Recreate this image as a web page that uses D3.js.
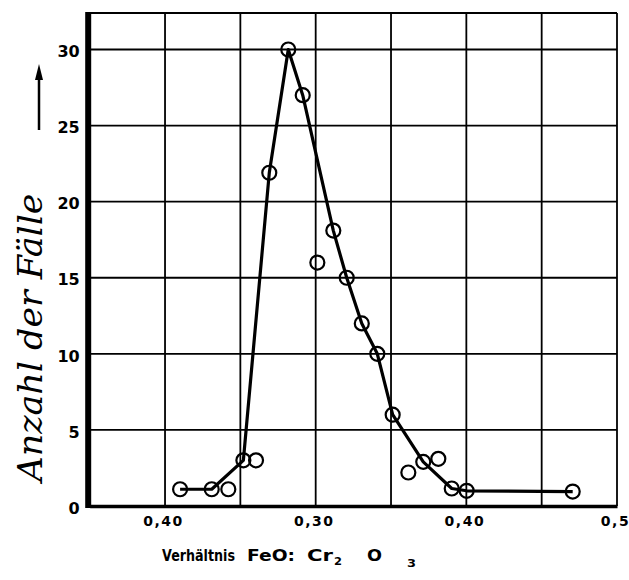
<!DOCTYPE html>
<html>
<head>
<meta charset="utf-8">
<script src="https://cdn.jsdelivr.net/npm/d3@7"></script>
<style>
  html, body { margin: 0; padding: 0; background: #fff; }
  svg { display: block; }
</style>
</head>
<body>
<svg id="chart" width="629" height="580"></svg>
<script>
// ---- data ----
const ratio = [0.210, 0.231, 0.242, 0.252, 0.2604, 0.2692, 0.2818, 0.2914, 0.3011, 0.3117,
               0.3206, 0.3306, 0.3409, 0.3511, 0.3615, 0.3714, 0.3814, 0.3903, 0.4002, 0.4706];
const cases = [1.1, 1.1, 1.1, 3.0, 3.0, 21.9, 30, 27.0, 16.0, 18.1,
               15.0, 12.0, 10.0, 6.0, 2.2, 2.9, 3.1, 1.15, 1.0, 0.95];
// vertices of the hand-drawn curve
const lineRatio = [0.210, 0.231, 0.252, 0.2692, 0.2818, 0.2914, 0.3117, 0.3206, 0.3306, 0.3409, 0.3511, 0.3714, 0.3903, 0.4002, 0.4706];
const lineCases = [1.1, 1.1, 3.0, 21.9, 30, 27.0, 18.1, 15.0, 12.0, 10.0, 6.0, 2.9, 1.15, 1.0, 0.95];
const xTicks = [0.20, 0.30, 0.40, 0.50];
const xTickLabels = ["0,40", "0,30", "0,40", "0,5"];
const xGrid = [0.20, 0.25, 0.30, 0.35, 0.40, 0.45, 0.50];
const yTicks = [0, 5, 10, 15, 20, 25, 30];
const yTitle = "Anzahl der Fälle";
// x title pieces: [text, x, width, font size, baseline]
const xTitleParts = [
  ["Verhältnis", 162, 73, 15, 561],
  ["FeO:", 247, 48, 15, 561],
  ["Cr", 307, 26, 15, 561],
  ["2", 334, 8, 11, 565],
  ["O", 367, 15, 15, 561],
  ["3", 407, 9, 10, 567]
];

// ---- layout ----
const svg = d3.select("#chart");
const x = d3.scaleLinear().domain([0.15, 0.50]).range([89.7, 617]);
const y = d3.scaleLinear().domain([0, 32.4]).range([506, 13]);

// gridlines
const grid = svg.append("g").attr("stroke", "#000").attr("stroke-width", 1.8);
grid.selectAll("line.v").data(xGrid).join("line")
  .attr("x1", d => x(d)).attr("x2", d => x(d))
  .attr("y1", y(32.4)).attr("y2", y(0));
grid.selectAll("line.h").data(yTicks.slice(1).concat([32.4])).join("line")
  .attr("x1", x(0.15)).attr("x2", x(0.50))
  .attr("y1", d => y(d)).attr("y2", d => y(d));

// axes
const xAxis = d3.axisBottom(x).tickValues(xTicks)
  .tickFormat((d, i) => xTickLabels[i]).tickSize(0).tickPadding(10);
const gx = svg.append("g").attr("transform", `translate(0,${y(0)})`).call(xAxis);
gx.select(".domain").attr("stroke", "#000").attr("stroke-width", 3.5);
gx.selectAll("text").attr("font-family", "'DejaVu Sans',sans-serif")
  .attr("font-weight", "bold").attr("font-size", 14).attr("letter-spacing", 1.5)
  .attr("fill", "#000").attr("dx", -2);

const yAxis = d3.axisLeft(y).tickValues(yTicks).tickSize(0).tickPadding(10);
const gy = svg.append("g").attr("transform", `translate(${x(0.15)},0)`).call(yAxis);
gy.select(".domain").remove();
gy.selectAll("text").attr("font-family", "'DejaVu Sans',sans-serif")
  .attr("font-weight", "bold").attr("font-size", 16).attr("fill", "#000").attr("dy", "0.45em");
// thick left axis
svg.append("line").attr("x1", x(0.15) - 1.5).attr("x2", x(0.15) - 1.5)
  .attr("y1", y(32.4) - 1).attr("y2", y(0) + 2)
  .attr("stroke", "#000").attr("stroke-width", 6);

// curve
svg.append("path")
  .datum(lineRatio.map((r, i) => [r, lineCases[i]]))
  .attr("d", d3.line().x(d => x(d[0])).y(d => y(d[1])))
  .attr("fill", "none").attr("stroke", "#000").attr("stroke-width", 3.2)
  .attr("stroke-linejoin", "round");

// points
svg.append("g").selectAll("circle").data(ratio).join("circle")
  .attr("cx", d => x(d)).attr("cy", (d, i) => y(cases[i])).attr("r", 7)
  .attr("fill", "none").attr("stroke", "#000").attr("stroke-width", 2.2);

// y title with arrow
svg.append("text")
  .attr("transform", `translate(42,${(193 + 482) / 2}) rotate(-90)`)
  .attr("text-anchor", "middle")
  .attr("font-family", "'DejaVu Serif','Liberation Serif',serif")
  .attr("font-style", "italic").attr("font-size", 34)
  .attr("textLength", 288).attr("lengthAdjust", "spacingAndGlyphs")
  .text(yTitle);
svg.append("line").attr("x1", 39).attr("x2", 39).attr("y1", 74).attr("y2", 130)
  .attr("stroke", "#000").attr("stroke-width", 2.5);
svg.append("path").attr("d", "M39,64 L35,80 L43,80 Z").attr("fill", "#000");

// x title
svg.append("g").selectAll("text").data(xTitleParts).join("text")
  .attr("x", d => d[1]).attr("y", d => d[4])
  .attr("textLength", d => d[2]).attr("lengthAdjust", "spacingAndGlyphs")
  .attr("font-family", "'DejaVu Sans',sans-serif").attr("font-weight", "bold")
  .attr("font-size", d => d[3]).attr("fill", "#000")
  .text(d => d[0]);
</script>
</body>
</html>
